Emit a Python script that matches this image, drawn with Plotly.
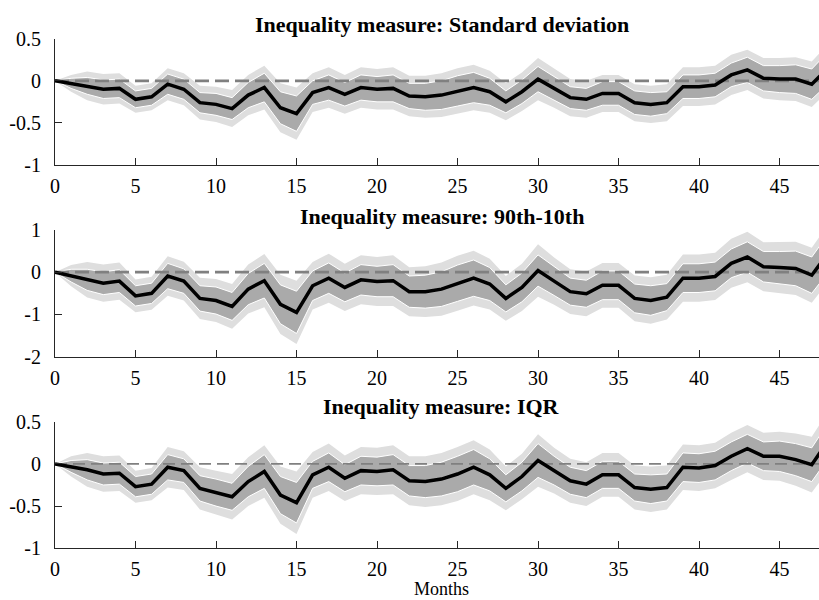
import plotly.graph_objects as go

months = list(range(49))

# Impulse responses (median) and half-widths of the 68% / 90% bands
sd_irf = [0, -0.03, -0.06, -0.10, -0.09, -0.22, -0.19, -0.04, -0.10, -0.26, -0.28, -0.33, -0.17,
          -0.08, -0.32, -0.39, -0.14, -0.08, -0.16, -0.08, -0.10, -0.09, -0.18, -0.19, -0.17,
          -0.12, -0.08, -0.13, -0.25, -0.13, 0.02, -0.09, -0.20, -0.22, -0.15, -0.15, -0.26,
          -0.28, -0.26, -0.07, -0.07, -0.05, 0.07, 0.13, 0.03, 0.02, 0.02, -0.04, 0.15]
sd_hw68 = [0, 0.06, 0.10, 0.11, 0.11, 0.10, 0.10, 0.12, 0.12, 0.12, 0.13, 0.13, 0.15, 0.17, 0.19,
           0.21, 0.14, 0.15, 0.14, 0.15, 0.15, 0.16, 0.15, 0.16, 0.17, 0.18, 0.18, 0.16, 0.13,
           0.14, 0.15, 0.14, 0.13, 0.13, 0.14, 0.14, 0.14, 0.14, 0.13, 0.14, 0.14, 0.14, 0.14,
           0.15, 0.15, 0.16, 0.17, 0.18, 0.19]
sd_hw90 = [0, 0.10, 0.17, 0.18, 0.18, 0.16, 0.16, 0.19, 0.19, 0.20, 0.21, 0.22, 0.24, 0.26, 0.29,
           0.31, 0.23, 0.24, 0.23, 0.24, 0.24, 0.25, 0.24, 0.25, 0.26, 0.27, 0.27, 0.25, 0.22,
           0.23, 0.25, 0.23, 0.22, 0.22, 0.22, 0.22, 0.22, 0.22, 0.22, 0.23, 0.23, 0.23, 0.24,
           0.24, 0.24, 0.25, 0.26, 0.27, 0.28]

p9010_irf = [0, -0.08, -0.18, -0.26, -0.21, -0.56, -0.50, -0.09, -0.21, -0.62, -0.67, -0.81, -0.40,
             -0.20, -0.76, -0.95, -0.32, -0.14, -0.36, -0.18, -0.22, -0.20, -0.46, -0.46, -0.40,
             -0.26, -0.14, -0.28, -0.62, -0.36, 0.04, -0.21, -0.46, -0.51, -0.31, -0.31, -0.62,
             -0.67, -0.59, -0.14, -0.14, -0.10, 0.21, 0.36, 0.13, 0.11, 0.09, -0.07, 0.44]
p9010_hw68 = [0, 0.15, 0.25, 0.27, 0.27, 0.24, 0.24, 0.30, 0.29, 0.30, 0.32, 0.33, 0.37, 0.41, 0.46,
              0.50, 0.35, 0.36, 0.34, 0.36, 0.36, 0.38, 0.37, 0.39, 0.41, 0.43, 0.43, 0.39, 0.32,
              0.34, 0.37, 0.34, 0.32, 0.32, 0.34, 0.34, 0.34, 0.35, 0.32, 0.34, 0.34, 0.34, 0.34,
              0.36, 0.36, 0.38, 0.41, 0.43, 0.45]
p9010_hw90 = [0, 0.25, 0.42, 0.44, 0.44, 0.39, 0.39, 0.47, 0.46, 0.49, 0.51, 0.53, 0.58, 0.63, 0.70,
              0.75, 0.56, 0.58, 0.56, 0.58, 0.58, 0.60, 0.58, 0.60, 0.63, 0.65, 0.65, 0.60, 0.53,
              0.56, 0.62, 0.56, 0.53, 0.53, 0.53, 0.53, 0.54, 0.55, 0.53, 0.56, 0.56, 0.56, 0.58,
              0.60, 0.58, 0.60, 0.63, 0.65, 0.68]

iqr_irf = [0, -0.03, -0.07, -0.12, -0.11, -0.27, -0.24, -0.04, -0.08, -0.29, -0.34, -0.39, -0.21,
           -0.09, -0.37, -0.46, -0.13, -0.04, -0.17, -0.08, -0.09, -0.07, -0.20, -0.21, -0.18,
           -0.12, -0.04, -0.13, -0.29, -0.15, 0.04, -0.08, -0.20, -0.24, -0.13, -0.13, -0.28,
           -0.30, -0.28, -0.04, -0.05, -0.02, 0.09, 0.18, 0.09, 0.09, 0.05, -0.01, 0.27]
iqr_hw68 = [0, 0.07, 0.12, 0.13, 0.13, 0.12, 0.12, 0.15, 0.14, 0.15, 0.16, 0.16, 0.18, 0.20, 0.22,
            0.24, 0.16, 0.17, 0.16, 0.17, 0.17, 0.18, 0.18, 0.19, 0.20, 0.21, 0.21, 0.19, 0.16,
            0.17, 0.20, 0.17, 0.16, 0.16, 0.16, 0.16, 0.16, 0.17, 0.16, 0.17, 0.17, 0.17, 0.17,
            0.17, 0.17, 0.18, 0.19, 0.20, 0.21]
iqr_hw90 = [0, 0.12, 0.20, 0.21, 0.21, 0.19, 0.19, 0.24, 0.23, 0.25, 0.26, 0.27, 0.29, 0.31, 0.34,
            0.37, 0.27, 0.28, 0.27, 0.28, 0.28, 0.29, 0.29, 0.30, 0.31, 0.32, 0.32, 0.30, 0.26,
            0.27, 0.31, 0.27, 0.26, 0.26, 0.26, 0.26, 0.26, 0.27, 0.26, 0.27, 0.27, 0.27, 0.28,
            0.28, 0.28, 0.29, 0.31, 0.33, 0.35]

titles = ["Inequality measure: Standard deviation",
          "Inequality measure: 90th-10th",
          "Inequality measure: IQR"]
y_ticks = [[-1, -0.5, 0, 0.5], [-2, -1, 0, 1], [-1, -0.5, 0, 0.5]]
y_ticktext = [["-1", "-0.5", "0", "0.5"], ["-2", "-1", "0", "1"], ["-1", "-0.5", "0", "0.5"]]
y_ranges = [[-1, 0.5], [-2, 1], [-1, 0.5]]
x_ticks = [0, 5, 10, 15, 20, 25, 30, 35, 40, 45]

panels = [(sd_irf, sd_hw68, sd_hw90),
          (p9010_irf, p9010_hw68, p9010_hw90),
          (iqr_irf, iqr_hw68, iqr_hw90)]

W, H = 819, 600
y_domains = [[0.725, 0.9355], [0.4055, 0.6167], [0.0862, 0.2972]]
title_y_px = [24, 216, 406]
zero_dash = [("14px,6px", 2.8), ("14px,6px", 2.8), ("12px,6px", 1.8)]

AXIS = "#262626"
FONT = "Liberation Serif, Times New Roman, serif"
TICK_SIZE = 20
TITLE_SIZE = 22

fig = go.Figure()

for i, (irf, hw68, hw90) in enumerate(panels):
    xa = "x" if i == 0 else f"x{i + 1}"
    ya = "y" if i == 0 else f"y{i + 1}"

    def band(hw):
        up = [m + h for m, h in zip(irf, hw)]
        lo = [m - h for m, h in zip(irf, hw)]
        return months + months[::-1], up + lo[::-1]

    bx, by = band(hw90)
    fig.add_trace(go.Scatter(x=bx, y=by, fill="toself", fillcolor="#dedede",
                             line=dict(color="#dedede", width=0), mode="lines",
                             hoverinfo="skip", showlegend=False, xaxis=xa, yaxis=ya))
    bx, by = band(hw68)
    fig.add_trace(go.Scatter(x=bx, y=by, fill="toself", fillcolor="#aaaaaa",
                             line=dict(color="white", width=1), mode="lines",
                             hoverinfo="skip", showlegend=False, xaxis=xa, yaxis=ya))
    dash, dw = zero_dash[i]
    fig.add_trace(go.Scatter(x=[0, 48], y=[0, 0], mode="lines",
                             line=dict(color="#808080", width=dw, dash=dash),
                             hoverinfo="skip", showlegend=False, xaxis=xa, yaxis=ya))
    fig.add_trace(go.Scatter(x=months, y=irf, mode="lines",
                             line=dict(color="black", width=3.5),
                             showlegend=False, xaxis=xa, yaxis=ya))

    axis_common = dict(showline=True, linecolor=AXIS, linewidth=1, ticks="inside",
                       ticklen=7, tickcolor=AXIS, tickwidth=1, showgrid=False,
                       zeroline=False,
                       tickfont=dict(family=FONT, size=TICK_SIZE, color="black"))
    fig.layout[f"xaxis{'' if i == 0 else i + 1}"] = dict(
        domain=[0, 1], range=[0, 47.45], anchor=ya, tickvals=x_ticks,
        ticklabelstandoff=3, **axis_common)
    fig.layout[f"yaxis{'' if i == 0 else i + 1}"] = dict(
        domain=y_domains[i], range=y_ranges[i], anchor=xa, tickvals=y_ticks[i],
        ticktext=y_ticktext[i], ticklabelstandoff=9, **axis_common)

    fig.add_annotation(text=f"<b>{titles[i]}</b>", xref="paper", yref="paper",
                       x=(441.7 - 55) / (W - 55), y=1 - title_y_px[i] / H,
                       xanchor="center", yanchor="middle", showarrow=False,
                       font=dict(family=FONT, size=TITLE_SIZE, color="black"))

fig.add_annotation(text="Months", xref="paper", yref="paper",
                   x=(441.7 - 55) / (W - 55), y=0, xanchor="center",
                   yanchor="bottom", showarrow=False, borderpad=0,
                   font=dict(family=FONT, size=18, color="black"))

fig.update_layout(width=W, height=H,
                  margin=dict(l=55, r=0, t=0, b=0, autoexpand=False),
                  paper_bgcolor="white", plot_bgcolor="white")

fig.write_html("out.html")
